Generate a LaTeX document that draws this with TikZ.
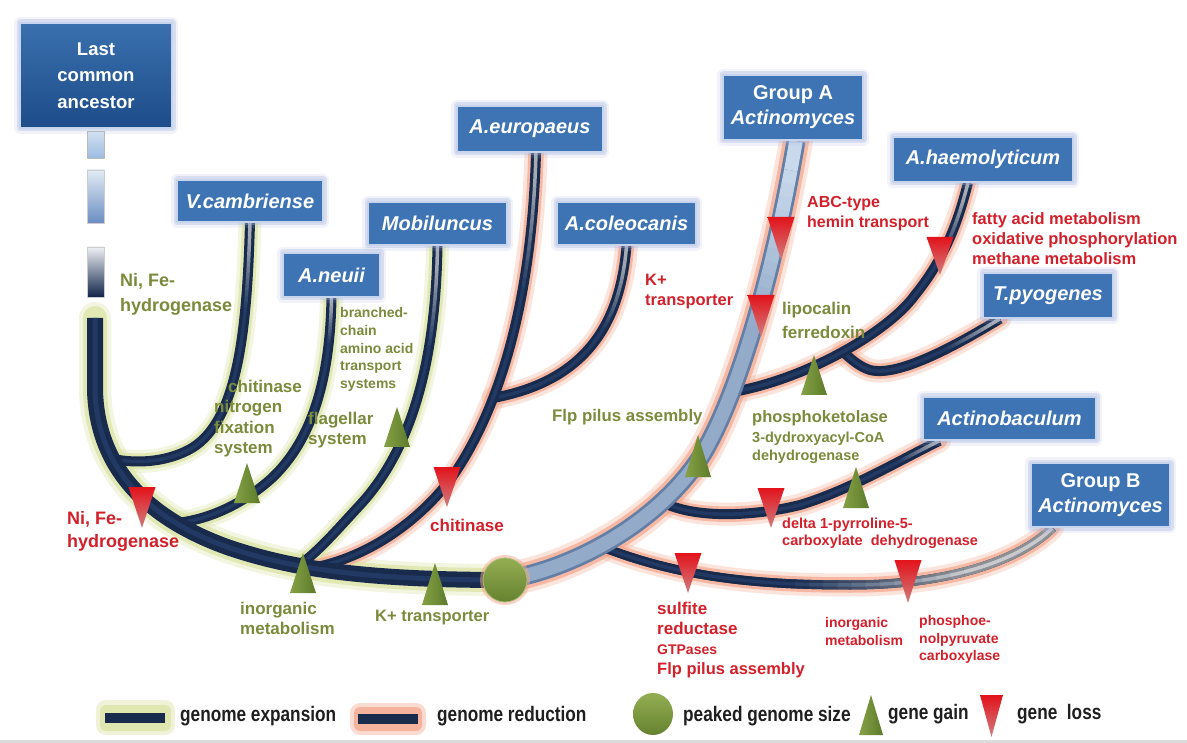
\documentclass[tikz,border=0pt]{standalone}
\usepackage{fontspec}
\setmainfont{Liberation Sans}
\usepackage{graphicx}
\usetikzlibrary{calc}
\pgfdeclarelayer{bg}
\pgfsetlayers{bg,main}

\definecolor{navy}{HTML}{182B4D}
\definecolor{navyhi}{HTML}{223A63}
\definecolor{fadegrey}{HTML}{A5ABB4}
\definecolor{boxblue}{HTML}{3E74B4}
\definecolor{boxedge}{HTML}{C6D4EE}
\definecolor{boxglow}{HTML}{A9B4DE}
\definecolor{lcaTop}{HTML}{3A70AE}
\definecolor{lcaBot}{HTML}{1D4C89}
\definecolor{olivetxt}{HTML}{7B8A3B}
\definecolor{lossred}{HTML}{D3202A}
\definecolor{yglow}{HTML}{DCE4A6}
\definecolor{sglow}{HTML}{F4A68C}
\definecolor{gainA}{HTML}{86A246}
\definecolor{gainB}{HTML}{5C7A2A}
\definecolor{lossA}{HTML}{E3121B}
\definecolor{lossB}{HTML}{CF7F7F}
\definecolor{bandin}{HTML}{93AAC8}
\definecolor{bandedge}{HTML}{647FA6}
\definecolor{bandtop}{HTML}{C8D9EC}
\definecolor{gbgrey}{HTML}{8E9096}
\definecolor{gblight}{HTML}{C8CACE}
\definecolor{pkA}{HTML}{93AE52}
\definecolor{pkB}{HTML}{66822F}
\definecolor{segAt}{HTML}{D3E2F3}
\definecolor{segAb}{HTML}{9DBBE0}
\definecolor{segBt}{HTML}{E2EBF5}
\definecolor{segBb}{HTML}{6B8EC1}
\definecolor{segCt}{HTML}{EEF0F4}
\definecolor{segCb}{HTML}{10244A}

\newcommand\fs[2]{\fontsize{#1}{#2}\selectfont\bfseries}

% draw a path (#1) with width #2, colour #3 for the first #5pt, then fading to #4 over #6pt
\newcommand\fadeline[6]{%
  \draw[line width=#2,draw=#3,dash pattern=on #5pt off 8000pt] #1;
  \foreach \kk in {0,...,11}{%
    \pgfmathsetmacro\dOff{#5+#6*\kk/12}%
    \pgfmathsetmacro\dOn{#6/12+0.6}%
    \pgfmathtruncatemacro\myPc{100*(\kk+0.5)/12}%
    \draw[line width=#2,draw=#4!\myPc!#3,dash pattern=on 0.01pt off \dOff pt on \dOn pt off 8000pt] #1;
  }%
  \pgfmathsetmacro\dEnd{#5+#6}%
  \draw[line width=#2,draw=#4,dash pattern=on 0.01pt off \dEnd pt on 8000pt off 10pt] #1;
}
\newcommand\gainT[3]{\shade[left color=gainA,right color=gainB] (#1-13,#3) -- (#1,#2) -- (#1+13,#3) -- cycle;}
\newcommand\lossT[3]{\shade[top color=lossA,bottom color=lossB] (#1-13.5,#2) -- (#1+13.5,#2) -- (#1,#3) -- cycle;}

\begin{document}
\begin{tikzpicture}[x=1pt,y=-1pt,line join=round,
  taxon/.style={draw=boxedge,line width=1.6pt,fill=boxblue,text=white,
    font=\fs{20}{25}\itshape,inner sep=0pt,
    preaction={draw=boxglow,line width=12pt,opacity=.15,rounded corners=3pt},
    preaction={draw=boxglow,line width=7pt,opacity=.35,rounded corners=2pt}},
  olab/.style={inner sep=0pt,anchor=west,align=left,text=olivetxt},
  rlab/.style={inner sep=0pt,anchor=west,align=left,text=lossred},
  legtxt/.style={inner sep=0pt,anchor=west,font=\fs{21}{25},text=black!88},
  yGa/.style={draw=yglow,line width=23pt,opacity=.35,line cap=round},
  yGb/.style={draw=yglow,line width=16pt,opacity=.75,line cap=round},
  sGa/.style={draw=sglow,line width=23pt,opacity=.3,line cap=round},
  sGb/.style={draw=sglow,line width=15.5pt,opacity=.7,line cap=round},
  br/.style={draw=navy,line width=10pt}]

\useasboundingbox (0,0) rectangle (1187,743);

% ---------- junction coordinates ----------
\coordinate (pk) at (505,580);
\coordinate (tTop) at (95,318);
\coordinate (jV) at (113,459);
\coordinate (jN) at (176,523);
\coordinate (jM) at (298,566);
\coordinate (jE) at (312,568);
\coordinate (jC) at (493,398);
\coordinate (jU) at (733,392);
\coordinate (jT) at (843,352);
\coordinate (jAb) at (664,503);
\coordinate (jB) at (600,546);

% ---------- taxon boxes ----------
\node[taxon,top color=lcaTop,bottom color=lcaBot,font=\fs{18.5}{26.5},align=center,
      minimum width=152pt,minimum height=105pt] (lca) at (96,75.5) {Last\\common\\ancestor};
\node[taxon,minimum width=146pt,minimum height=42pt] (vcam) at (250,201) {V.cambriense};
\node[taxon,minimum width=97pt,minimum height=44pt] (aneuii) at (331.5,275) {A.neuii};
\node[taxon,minimum width=139pt,minimum height=43pt] (mob) at (437.5,223.5) {Mobiluncus};
\node[taxon,minimum width=146pt,minimum height=46pt] (aeur) at (530,129) {A.europaeus};
\node[taxon,minimum width=139pt,minimum height=43pt] (acol) at (626.5,223.5) {A.coleocanis};
\node[taxon,minimum width=140pt,minimum height=65pt,align=center] (grpA) at (793,107.5) {{\upshape Group A}\\Actinomyces};
\node[taxon,minimum width=180pt,minimum height=45pt] (ahaem) at (983,159.5) {A.haemolyticum};
\node[taxon,minimum width=130pt,minimum height=45pt] (tpyo) at (1048,295.5) {T.pyogenes};
\node[taxon,minimum width=173pt,minimum height=43pt] (actb) at (1009.5,418.5) {Actinobaculum};
\node[taxon,minimum width=139pt,minimum height=64pt,align=center] (grpB) at (1100.5,495) {{\upshape Group B}\\Actinomyces};

\coordinate (eurS) at ([xshift=6pt]aeur.south);
\coordinate (haeS) at ([xshift=-15pt]ahaem.south);
\coordinate (tpyS) at ([xshift=-48pt]tpyo.south);
\coordinate (abS) at ([xshift=-70pt]actb.south);
\coordinate (gbS) at ([xshift=-48pt]grpB.south);
\coordinate (gaS) at ([xshift=3pt]grpA.south);

% ---------- branch paths ----------
\def\pVcam{(vcam.south) .. controls (247,330) and (238,420) .. (192,448) .. controls (168,462) and (138,464) .. (jV)}
\def\pNeu{(aneuii.south) .. controls (330,380) and (312,440) .. (272,478) .. controls (242,505) and (207,520) .. (jN)}
\def\pMob{(mob.south) .. controls (436,340) and (420,440) .. (360,505) .. controls (335,532) and (318,552) .. (jM)}
\def\pEur{(eurS) .. controls (532,300) and (500,410) .. (450,480) .. controls (415,525) and (365,558) .. (jE)}
\def\pCol{(acol.south) .. controls (620,330) and (580,382) .. (jC)}
\def\pHae{(haeS) .. controls (958,222) and (945,258) .. (915,295) .. controls (890,330) and (810,378) .. (jU)}
\def\pTpy{(tpyS) .. controls (965,340) and (900,378) .. (870,370) .. controls (860,367) and (852,360) .. (jT)}
\def\pAcb{(abS) .. controls (900,460) and (850,490) .. (800,505) .. controls (760,515) and (700,520) .. (jAb)}
\def\pGB{(gbS) .. controls (1020,560) and (950,585) .. (850,585) .. controls (760,585) and (680,578) .. (jB)}
\def\pGA{(gaS) .. controls (776,260) and (742,385) .. (705,450) .. controls (670,510) and (590,565) .. (pk)}
\def\pTr{(tTop) -- (95,390) .. controls (97,470) and (150,520) .. (230,548) .. controls (290,568) and (360,580) .. (pk)}

\begin{pgfonlayer}{bg}
\fill[white] (0,0) rectangle (1187,743);
% glows (outer)
\draw[yGa] \pVcam; \draw[yGa] \pNeu; \draw[yGa] \pMob; \draw[yGa,line width=32pt] \pTr;
\draw[sGa] \pEur; \draw[sGa] \pCol; \draw[sGa] \pHae; \draw[sGa] \pTpy;
\draw[sGa] \pAcb; \draw[sGa] \pGB; \draw[sGa,line width=34pt] \pGA;
% glows (inner)
\draw[yGb] \pVcam; \draw[yGb] \pNeu; \draw[yGb] \pMob; \draw[yGb,line width=24pt] \pTr;
\draw[sGb] \pEur; \draw[sGb] \pCol; \draw[sGb] \pHae; \draw[sGb] \pTpy;
\draw[sGb] \pAcb; \draw[sGb] \pGB; \draw[sGb,line width=26pt] \pGA;
% expansion branches
\draw[br] \pVcam; \fadeline{\pVcam}{3.5pt}{fadegrey}{navyhi}{15}{70}
\draw[br] \pNeu;  \fadeline{\pNeu}{3.5pt}{fadegrey}{navyhi}{5}{40}
\draw[br] \pMob;  \fadeline{\pMob}{3.5pt}{fadegrey}{navyhi}{20}{80}
% reduction branches
\draw[br] \pCol;  \fadeline{\pCol}{3.5pt}{fadegrey}{navyhi}{15}{70}
\draw[br] \pEur;  \fadeline{\pEur}{3.5pt}{fadegrey}{navyhi}{25}{110}
\draw[br] \pTpy;  \fadeline{\pTpy}{3.5pt}{fadegrey}{navyhi}{10}{50}
\draw[br] \pHae;  \fadeline{\pHae}{3.5pt}{fadegrey}{navyhi}{15}{60}
\draw[br] \pAcb;  \fadeline{\pAcb}{3.5pt}{fadegrey}{navyhi}{5}{40}
\draw[br,line width=9pt] \pGB;
\fadeline{\pGB}{9pt}{gbgrey}{navy}{100}{170}
\fadeline{\pGB}{3.5pt}{gblight}{navyhi}{100}{170}
% trunk
\draw[draw=navy,line width=16pt] \pTr;
\draw[draw=navyhi,line width=5pt] \pTr;
% Group A band
\draw[draw=bandedge,line width=19pt] \pGA;
\fadeline{\pGA}{13.5pt}{bandtop}{bandin}{30}{160}
\end{pgfonlayer}

% ---------- dashed start of the trunk ----------
\shade[top color=segAt,bottom color=segAb,draw=gray!55,line width=.6pt] (87,131) rectangle (104,158);
\shade[top color=segBt,bottom color=segBb,draw=gray!40,line width=.6pt] (87,170) rectangle (104,223);
\shade[top color=segCt,bottom color=segCb,draw=gray!40,line width=.6pt] (87,247) rectangle (104,297);

% ---------- peaked genome size ----------
\node[circle,minimum size=44pt,inner sep=0pt,draw=pkA!80!white,line width=.8pt,
      top color=pkA,bottom color=pkB,
      preaction={draw=sglow,line width=6pt,opacity=.5}] (peak) at (pk) {};

% ---------- gene loss (red) ----------
\lossT{142}{487}{528}
\lossT{447}{467}{507}
\lossT{761}{295}{337}
\lossT{781}{217}{260}
\lossT{940}{237}{275}
\lossT{771}{488}{528}
\lossT{688}{553}{593}
\lossT{908}{560}{603}
% ---------- gene gain (green) ----------
\gainT{247}{463}{503}
\gainT{303}{553}{593}
\gainT{397}{407}{447}
\gainT{435}{563}{605}
\gainT{698}{435}{477}
\gainT{814}{355}{395}
\gainT{856}{467}{508}

% ---------- labels: gene gain (olive) ----------
\node[olab,font=\fs{18}{24.5}] (oNiFe) at (120,294.5) {Ni, Fe-\\hydrogenase};
\node[olab,font=\fs{17}{20.5}] (oChit) at (228,386) {chitinase};
\node[olab,font=\fs{17}{20.5}] (oNitro) at (214,429) {nitrogen\\fixation\\system};
\node[olab,font=\fs{17}{20}] (oFlag) at (308,430) {flagellar\\system};
\node[olab,font=\fs{14}{17.7}] (oBran) at (340,349.5) {branched-\\chain\\amino acid\\transport\\systems};
\node[olab,font=\fs{17}{20}] (oInorg) at (240,618) {inorganic\\metabolism};
\node[olab,font=\fs{16.5}{20}] (oK) at (375,618) {K+ transporter};
\node[olab,font=\fs{16.8}{20}] (oFlp) at (552,417) {Flp pilus assembly};
\node[olab,font=\fs{17}{24}] (oLipo) at (782,320) {lipocalin\\ferredoxin};
\node[olab,font=\fs{16.5}{20}] (oPhos) at (752,418) {phosphoketolase};
\node[olab,font=\fs{14.5}{17.5}] (oDyd) at (752,448) {3-dydroxyacyl-CoA\\dehydrogenase};

% ---------- labels: gene loss (red) ----------
\node[rlab,font=\fs{18}{23.5}] (rNiFe) at (67,531.5) {Ni, Fe-\\hydrogenase};
\node[rlab,font=\fs{17}{20}] (rChit) at (430,525) {chitinase};
\node[rlab,font=\fs{16.5}{20}] (rK) at (645,292) {K+\\transporter};
\node[rlab,font=\fs{16}{19.5}] (rABC) at (807,213.5) {ABC-type\\hemin transport};
\node[rlab,font=\fs{16.5}{20}] (rFat) at (972,239) {fatty acid metabolism\\oxidative phosphorylation\\methane metabolism};
\node[rlab,font=\fs{14.5}{17}] (rDelta) at (782,533.5) {delta 1-pyrroline-5-\\carboxylate\ \ dehydrogenase};
\node[rlab,font=\fs{17}{20}] (rSulf) at (657,618) {sulfite\\reductase};
\node[rlab,font=\fs{14}{17}] (rGTP) at (657,650) {GTPases};
\node[rlab,font=\fs{16.5}{20}] (rFlp) at (657,670) {Flp pilus assembly};
\node[rlab,font=\fs{14}{18}] (rInorg) at (825,631) {inorganic\\metabolism};
\node[rlab,font=\fs{14}{17.5}] (rPEP) at (919,639.5) {phosphoe-\\nolpyruvate\\carboxylase};

% ---------- legend ----------
\fill[yglow,opacity=.45,rounded corners=10pt] (96,700) rectangle (175,735);
\fill[yglow,opacity=.8,rounded corners=6pt] (100,705) rectangle (171,731);
\fill[navy] (105,713) rectangle (165,723);
\node[legtxt] (lgExp) at (180,716) {\scalebox{0.82}[1]{genome expansion}};
\fill[sglow,opacity=.4,rounded corners=10pt] (350,703) rectangle (426,735);
\fill[sglow,opacity=.75,rounded corners=6pt] (354,707) rectangle (422,731);
\fill[navy] (358,714) rectangle (418,724);
\node[legtxt] (lgRed) at (437,716) {\scalebox{0.82}[1]{genome reduction}};
\shade[top color=pkA,bottom color=pkB] (653,714) ellipse [x radius=20pt,y radius=21pt];
\node[legtxt] (lgPeak) at (683,716) {\scalebox{0.82}[1]{peaked genome size}};
\shade[left color=gainA,right color=gainB] (859,735) -- (871,695) -- (883,735) -- cycle;
\node[legtxt] (lgGain) at (888,714) {\scalebox{0.82}[1]{gene gain}};
\shade[top color=lossA,bottom color=lossB] (980,695) -- (1003,695) -- (991.5,737) -- cycle;
\node[legtxt] (lgLoss) at (1017,714) {\scalebox{0.82}[1]{gene\ \ loss}};
\fill[gray!28] (0,739.5) rectangle (1187,743);
\end{tikzpicture}
\end{document}
